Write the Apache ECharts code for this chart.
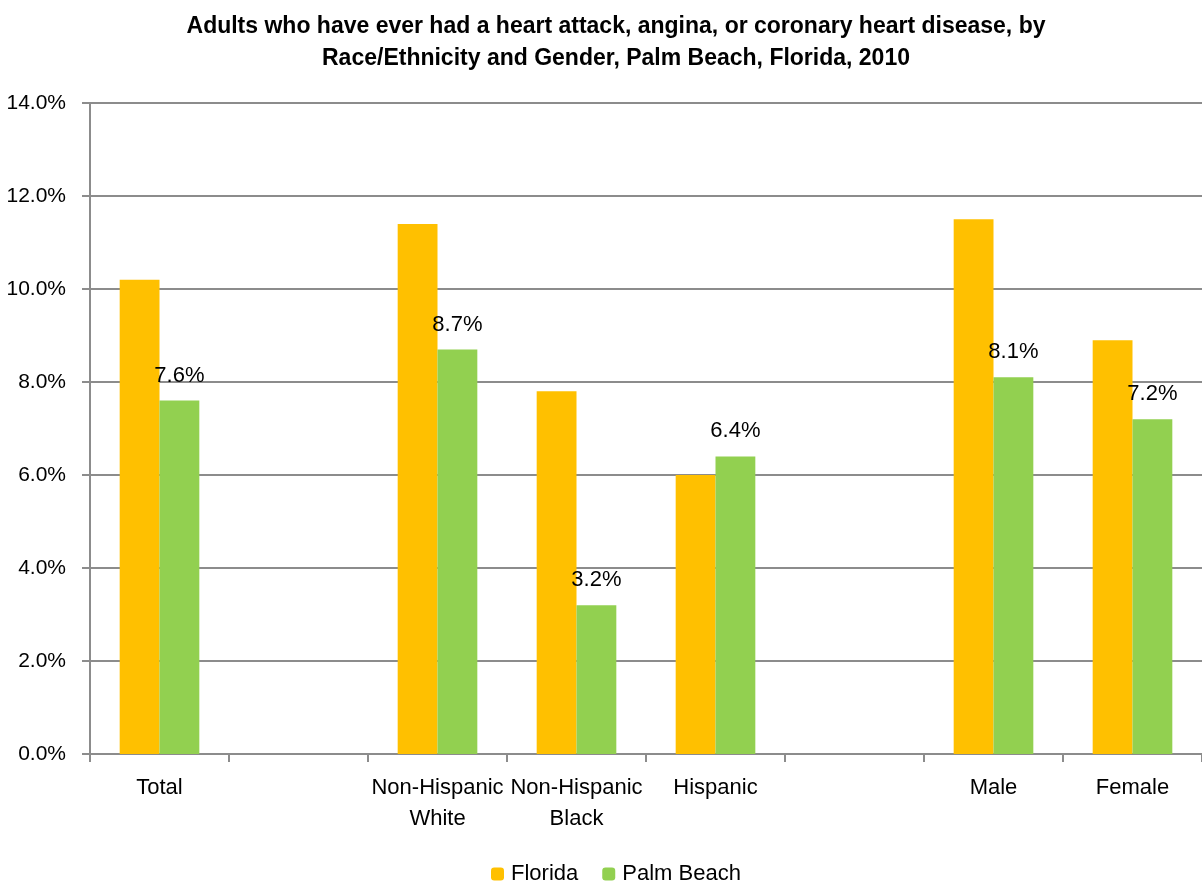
<!DOCTYPE html>
<html><head><meta charset="utf-8">
<script src="https://cdn.jsdelivr.net/npm/echarts@6/dist/echarts.min.js"></script>
<style>html,body{margin:0;padding:0;background:#fff}#c{width:1202px;height:884px}</style>
</head><body><div id="c"></div>
<script>
const categories = ['Total', '', 'Non-Hispanic\nWhite', 'Non-Hispanic\nBlack', 'Hispanic', '', 'Male', 'Female'];
const florida = [10.2, null, 11.4, 7.8, 6.0, null, 11.5, 8.9];
const palmBeach = [7.6, null, 8.7, 3.2, 6.4, null, 8.1, 7.2];
const seriesNames = ['Florida', 'Palm Beach'];
const titleText = 'Adults who have ever had a heart attack, angina, or coronary heart disease, by\nRace/Ethnicity and Gender, Palm Beach, Florida, 2010';

const font = 'Liberation Sans, Arial, sans-serif';
const chart = echarts.init(document.getElementById('c'), null, {renderer: 'canvas'});
chart.setOption({
  animation: false,
  title: {
    text: titleText, left: 611, top: 6, textAlign: 'center',
    textStyle: {fontFamily: font, fontWeight: 'bold', fontSize: 23, lineHeight: 32, color: '#000'}
  },
  legend: {
    top: 858, left: 486, itemWidth: 13, itemHeight: 13, itemGap: 24,
    textStyle: {fontFamily: font, fontSize: 22, color: '#000', padding: [0, 0, 0, 2]},
    data: seriesNames
  },
  grid: {left: 90, right: -6, top: 103, bottom: 130},
  xAxis: {
    type: 'category', data: categories,
    axisLine: {lineStyle: {color: '#8c8c8c', width: 2}},
    axisTick: {show: true, length: 8, lineStyle: {color: '#8c8c8c', width: 2}},
    axisLabel: {interval: 0, margin: 18, fontFamily: font, fontSize: 22, lineHeight: 31, color: '#000'}
  },
  yAxis: {
    type: 'value', min: 0, max: 14, interval: 2,
    axisLine: {show: true, lineStyle: {color: '#8c8c8c', width: 2}},
    axisTick: {show: true, length: 8, lineStyle: {color: '#8c8c8c', width: 2}},
    splitLine: {lineStyle: {color: '#8c8c8c', width: 2}},
    axisLabel: {margin: 24, fontFamily: font, fontSize: 21, color: '#000',
      formatter: v => v.toFixed(1) + '%'}
  },
  series: [
    {name: seriesNames[0], type: 'bar', data: florida, barGap: '0%', barCategoryGap: '42.7%',
      itemStyle: {color: '#FFC000'}},
    {name: seriesNames[1], type: 'bar', data: palmBeach, barGap: '0%', barCategoryGap: '42.7%',
      itemStyle: {color: '#92D050'},
      label: {show: true, position: 'top', distance: 14, fontFamily: font, fontSize: 22, color: '#000',
        formatter: p => p.value.toFixed(1) + '%'}}
  ]
});
</script></body></html>
